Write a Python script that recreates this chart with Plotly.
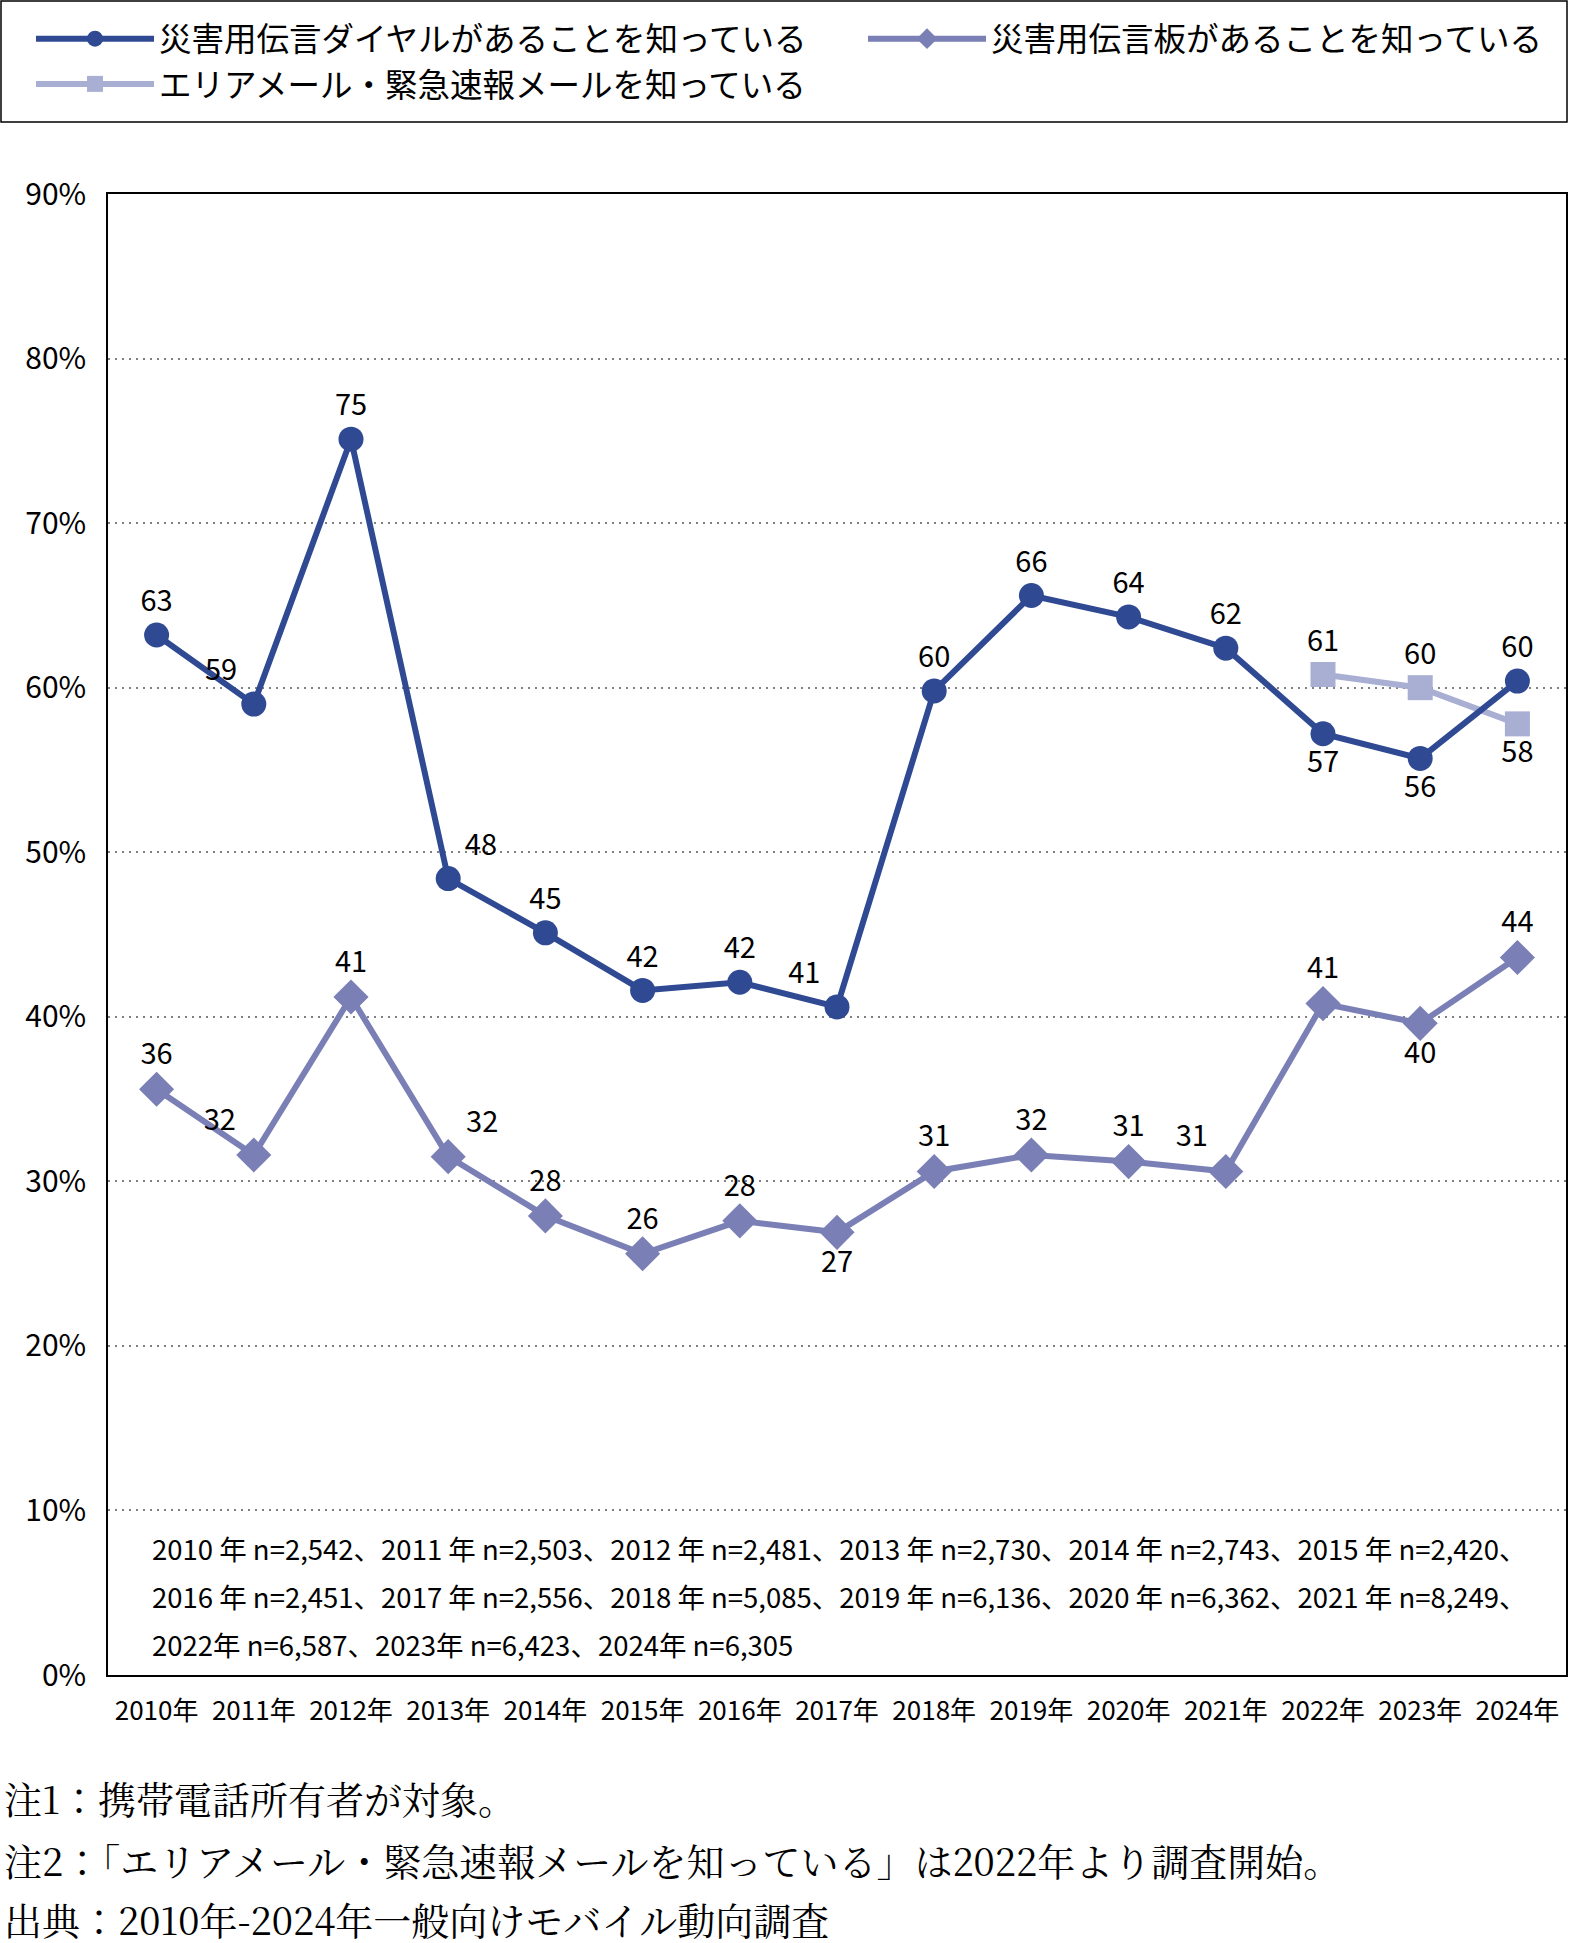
import plotly.graph_objects as go

# ---------------- data ----------------
years = ["2010年", "2011年", "2012年", "2013年", "2014年", "2015年", "2016年", "2017年",
         "2018年", "2019年", "2020年", "2021年", "2022年", "2023年", "2024年"]
dial = [63.2, 59.0, 75.1, 48.4, 45.1, 41.6, 42.1, 40.6, 59.8, 65.6, 64.3, 62.4, 57.2, 55.7, 60.4]
board = [35.6, 31.6, 41.2, 31.5, 27.9, 25.6, 27.6, 26.9, 30.6, 31.6, 31.2, 30.6, 40.8, 39.6, 43.6]
area_years = ["2022年", "2023年", "2024年"]
area = [60.8, 60.0, 57.8]

name_dial = "災害用伝言ダイヤルがあることを知っている"
name_board = "災害用伝言板があることを知っている"
name_area = "エリアメール・緊急速報メールを知っている"

n_lines = [
    "2010 年 n=2,542、2011 年 n=2,503、2012 年 n=2,481、2013 年 n=2,730、2014 年 n=2,743、2015 年 n=2,420、",
    "2016 年 n=2,451、2017 年 n=2,556、2018 年 n=5,085、2019 年 n=6,136、2020 年 n=6,362、2021 年 n=8,249、",
    "2022年 n=6,587、2023年 n=6,423、2024年 n=6,305",
]
notes = [
    "注1：携帯電話所有者が対象。",
    "注2：「エリアメール・緊急速報メールを知っている」は2022年より調査開始。",
    "出典：2010年-2024年一般向けモバイル動向調査",
]

# ---------------- style ----------------
C_DIAL = "#2F4A93"
C_BOARD = "#7A7FB6"
C_AREA = "#A9AED3"
FONT = "Noto Sans CJK JP"
SERIF = "Noto Serif CJK JP, Liberation Serif, Noto Sans CJK JP"

TC, BC, TL, TR = "top center", "bottom center", "top left", "top right"
pos_dial = [TC, TL, TC, TR, TC, TC, TC, TL, TC, TC, TC, TC, BC, BC, TC]
pos_board = [TC, TL, TC, TR, TC, TC, TC, BC, TC, TC, TC, TL, TC, BC, TC]
pos_area = [TC, TC, BC]

W, H = 1569, 1943
L, R, T, B = 108, 1566, 194, 1675


def px(x):
    return (x - L) / (R - L)


def py(y):
    return (B - y) / (B - T)


fig = go.Figure()

fig.add_trace(go.Scatter(
    x=area_years, y=area, name=name_area, mode="lines+markers+text",
    line=dict(color=C_AREA, width=6), marker=dict(symbol="square", size=25, color=C_AREA),
    texttemplate="%{y:.0f}", textposition=pos_area,
    textfont=dict(family=FONT, size=29, color="black"),
    legend="legend", legendrank=3, legendgroup="g3", cliponaxis=False,
))
fig.add_trace(go.Scatter(
    x=years, y=board, name=name_board, mode="lines+markers+text",
    line=dict(color=C_BOARD, width=6), marker=dict(symbol="diamond", size=27, color=C_BOARD),
    texttemplate="%{y:.0f}", textposition=pos_board,
    textfont=dict(family=FONT, size=29, color="black"),
    legend="legend2", legendgroup="g2", cliponaxis=False,
))
fig.add_trace(go.Scatter(
    x=years, y=dial, name=name_dial, mode="lines+markers+text",
    line=dict(color=C_DIAL, width=6), marker=dict(symbol="circle", size=25, color=C_DIAL),
    texttemplate="%{y:.0f}", textposition=pos_dial,
    textfont=dict(family=FONT, size=29, color="black"),
    legend="legend", legendrank=1, legendgroup="g1", cliponaxis=False,
))

annotations = []
for line, yy in zip(n_lines, [1548, 1596, 1644]):
    annotations.append(dict(
        text=line, xref="paper", yref="paper", x=px(150), y=py(yy),
        xanchor="left", yanchor="middle", showarrow=False,
        font=dict(family=FONT, size=27.5, color="black"),
    ))
for line, yy in zip(notes, [1797, 1859, 1918]):
    annotations.append(dict(
        text=line, xref="paper", yref="paper", x=px(2), y=py(yy),
        xanchor="left", yanchor="middle", showarrow=False,
        font=dict(family=SERIF, size=38, color="black"),
    ))

fig.update_layout(
    width=W, height=H,
    margin=dict(l=L, r=W - R, t=T, b=H - B, autoexpand=False),
    paper_bgcolor="white", plot_bgcolor="white",
    font=dict(family=FONT, color="black"),
    showlegend=True,
    legend=dict(
        x=px(31), y=py(11), xanchor="left", yanchor="top", orientation="v",
        font=dict(family=FONT, size=32.5, color="black"), itemwidth=118,
        bgcolor="rgba(0,0,0,0)", borderwidth=0, traceorder="normal", tracegroupgap=12,
    ),
    legend2=dict(
        x=px(863), y=py(11), xanchor="left", yanchor="top", orientation="v",
        font=dict(family=FONT, size=32.5, color="black"), itemwidth=118,
        bgcolor="rgba(0,0,0,0)", borderwidth=0,
    ),
    shapes=[dict(type="rect", xref="paper", yref="paper",
                 x0=px(1), x1=px(1567), y0=py(122), y1=py(1),
                 line=dict(color="black", width=1.5), fillcolor="rgba(0,0,0,0)", layer="below")],
    annotations=annotations,
)

fig.update_xaxes(
    type="category", categoryorder="array", categoryarray=years, range=[-0.5, 14.5],
    showline=True, linecolor="black", linewidth=1.5, mirror=True,
    showgrid=False, ticks="", ticklabelstandoff=12,
    tickfont=dict(family=FONT, size=26, color="black"),
)
fig.update_yaxes(
    range=[0, 90], dtick=10, tick0=0, ticksuffix="%",
    showline=True, linecolor="black", linewidth=1.5, mirror=True,
    showgrid=True, gridcolor="#808080", gridwidth=1.5, griddash="2px,5px",
    zeroline=False, ticks="", ticklabelstandoff=14,
    tickfont=dict(family=FONT, size=30, color="black"),
)

fig.write_html("out.html", config={"displayModeBar": False},
               post_script="document.body.style.margin='0';")
